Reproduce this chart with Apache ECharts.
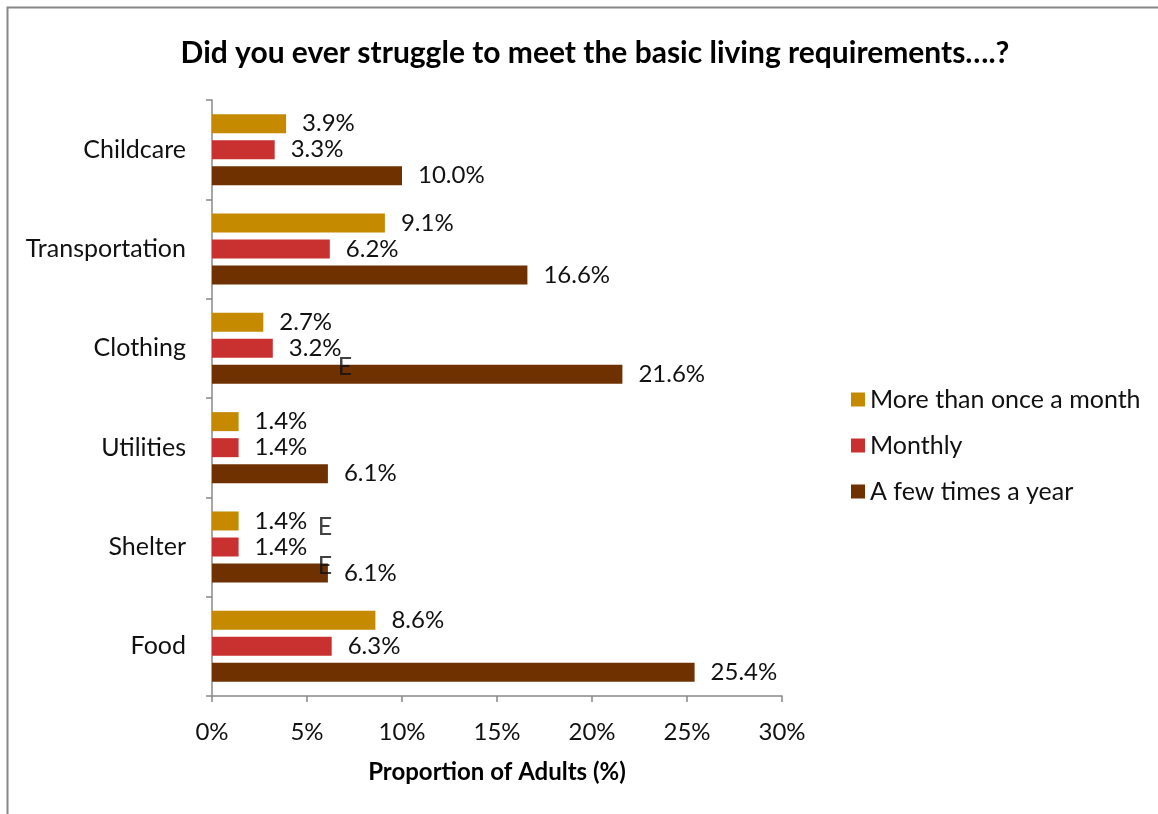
<!DOCTYPE html>
<html>
<head>
<meta charset="utf-8">
<style>
  html, body { margin: 0; padding: 0; background: #fff; }
  #chart { width: 1158px; height: 814px; }
</style>
<script src="https://cdn.jsdelivr.net/npm/echarts@6/dist/echarts.min.js"></script>
</head>
<body>
<div id="chart"></div>
<script>
// Categories listed bottom-to-top along the vertical axis
const categories = ['Food', 'Shelter', 'Utilities', 'Clothing', 'Transportation', 'Childcare'];

// Share of adults (%) by frequency of struggle
const moreThanMonthly = [8.6, 1.4, 1.4, 2.7, 9.1, 3.9];
const monthly = [6.3, 1.4, 1.4, 3.2, 6.2, 3.3];
const fewTimesYear = [25.4, 6.1, 6.1, 21.6, 16.6, 10.0];

// Axis tick values (%)
const xTicks = [0, 5, 10, 15, 20, 25, 30];

// "E" flags (use with caution estimates): [value, category, side of the middle bar]
const flagPoints = [[7.0, 'Clothing', 'below'], [5.95, 'Shelter', 'above'], [5.95, 'Shelter', 'below']];

const FONT = 'Lato, "Open Sans", sans-serif';
const labelStyle = {
  show: true, position: 'right', distance: 16,
  color: '#111', fontSize: 24, fontFamily: FONT,
  formatter: p => p.value.toFixed(1) + '%'
};

function barSeries(name, data, color) {
  return {
    name, type: 'bar', data,
    barWidth: 19, barGap: '37%',
    itemStyle: { color },
    label: labelStyle,
    emphasis: { disabled: true },
    animation: false
  };
}

const chart = echarts.init(document.getElementById('chart'), null, { renderer: 'canvas' });
chart.setOption({
  backgroundColor: '#fff',
  animation: false,
  title: {
    text: 'Did you ever struggle to meet the basic living requirements….?',
    left: 590, top: 33, textAlign: 'center',
    textStyle: { fontFamily: FONT, fontSize: 30, fontWeight: 'bold', color: '#000' }
  },
  legend: {
    data: ['More than once a month', 'Monthly', 'A few times a year'],
    orient: 'vertical', left: 846, top: 382,
    itemWidth: 14, itemHeight: 14, itemGap: 21,
    icon: 'rect',
    textStyle: { fontFamily: FONT, fontSize: 25, color: '#111', padding: [0, 0, 0, 0] }
  },
  grid: { left: 212, right: 376, top: 100, bottom: 118, containLabel: false },
  xAxis: {
    type: 'value', min: xTicks[0], max: xTicks[xTicks.length - 1], interval: 5,
    name: 'Proportion of Adults (%)', nameLocation: 'middle', nameGap: 64,
    nameTextStyle: { fontFamily: FONT, fontSize: 24, fontWeight: 'bold', color: '#000' },
    axisLine: { show: true, lineStyle: { color: '#888', width: 1.5 } },
    axisTick: { show: true, length: 6, lineStyle: { color: '#888', width: 1.5 } },
    splitLine: { show: false },
    axisLabel: { fontFamily: FONT, fontSize: 24, color: '#111', margin: 24, formatter: v => v + '%' }
  },
  yAxis: {
    type: 'category', data: categories,
    axisLine: { show: true, lineStyle: { color: '#888', width: 1.5 } },
    axisTick: { show: true, length: 6, lineStyle: { color: '#888', width: 1.5 } },
    axisLabel: { fontFamily: FONT, fontSize: 25, color: '#111', margin: 26 }
  },
  series: [
    barSeries('More than once a month', moreThanMonthly, '#C58A00'),
    barSeries('Monthly', monthly, '#C93131'),
    barSeries('A few times a year', fewTimesYear, '#6F3100'),
    {
      name: 'flags', type: 'scatter', symbolSize: 0, silent: true,
      data: flagPoints.map(f => ({
        value: [f[0], f[1]],
        label: { offset: [0, f[2] === 'below' ? 19 : -20] }
      })),
      label: { show: true, position: 'inside', formatter: 'E', fontFamily: FONT, fontSize: 25, color: '#111' },
      z: 5
    }
  ],
  graphic: [{
    type: 'rect', silent: true,
    shape: { x: 7.5, y: 7.5, width: 1200, height: 900 },
    style: { fill: null, stroke: '#888', lineWidth: 2 }
  }]
});
</script>
</body>
</html>
